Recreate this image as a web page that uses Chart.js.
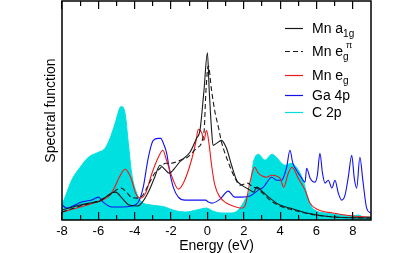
<!DOCTYPE html>
<html>
<head>
<meta charset="utf-8">
<script src="https://cdn.jsdelivr.net/npm/chart.js@4.4.1/dist/chart.umd.min.js"></script>
<style>
  html, body { margin: 0; padding: 0; background: #fff; }
  #dosChart { display: block; }
</style>
</head>
<body>
<canvas id="dosChart" width="416" height="253"></canvas>
<script>
// energy axis ticks (eV): labelled/long ones and short ones in between
const xTickLabels = [-8, -6, -4, -2, 0, 2, 4, 6, 8];
const xMinorTicks = [-7, -5, -3, -1, 1, 3, 5, 7];

// Mn a1g (solid black)
const a1gE = [-8, -7.0, -6.46, -5.9, -5.3, -5.05, -4.7, -4.3, -3.85, -3.58, -3.2, -2.9, -2.61, -2.35, -2.1, -1.8, -1.5, -0.96, -0.6, -0.41, -0.19, 0, 0.1, 0.23, 0.31, 0.5, 0.77, 1.05, 1.33, 1.61, 1.89, 2.34, 2.55, 2.71, 3.06, 3.44, 3.99, 4.54, 5.46, 6.9, 9];
const a1gV = [10, 15, 17, 19, 27, 28, 22, 15, 14, 18, 30, 43, 55, 51, 47, 52, 59, 68, 82, 90, 130, 168, 130, 90, 75, 77, 80, 72, 55, 40, 35, 30, 28, 33, 28, 22, 15, 12, 7, 3, 2];

// Mn eg^pi (dashed black)
const egPiE = [-8, -7.0, -6.4, -5.9, -5.4, -4.75, -4.45, -4.2, -3.85, -3.6, -3.2, -2.9, -2.6, -2.3, -2.0, -1.5, -1.1, -0.6, -0.19, -0.08, 0.05, 0.23, 0.4, 0.62, 0.78, 1.15, 1.52, 1.79, 2.2, 2.52, 2.71, 3.1, 3.44, 3.99, 4.54, 5.64, 7, 9];
const egPiV = [8, 14, 17, 20, 25, 32, 28, 23, 22, 24, 37, 47, 52, 57, 57, 60, 63, 72, 88, 130, 155, 130, 110, 92, 78, 58, 42, 35, 37, 33, 32, 26, 20, 14, 11, 6, 3, 2];

// Mn eg (red)
const egE = [-8, -7.0, -6.1, -5.36, -5.1, -4.85, -4.53, -4.2, -3.95, -3.7, -3.4, -3.05, -2.7, -2.45, -2.25, -1.88, -1.6, -1.3, -0.91, -0.64, -0.5, -0.32, -0.19, -0.05, 0.1, 0.23, 0.41, 0.69, 1.05, 1.42, 1.9, 2.1, 2.34, 2.6, 2.8, 3.26, 3.53, 3.99, 4.2, 4.45, 4.65, 5.0, 5.37, 5.64, 6.0, 6.9, 8.0, 9];
const egV = [8, 13, 18, 25, 33, 43, 51, 42, 27, 22, 27, 47, 63, 70, 60, 40, 31, 38, 58, 78, 91, 88, 80, 90, 75, 55, 35, 23, 17, 14, 12, 16, 38, 53, 47, 43, 45, 42, 33, 47, 53, 42, 30, 17, 11, 7, 4, 3];

// Ga 4p (blue)
const ga4pE = [-8.0, -7.74, -7.4, -6.92, -6.37, -6.0, -5.73, -5.27, -4.72, -4.17, -3.8, -3.53, -3.25, -2.98, -2.7, -2.57, -2.4, -2.24, -2.06, -1.88, -1.6, -1.23, -0.5, -0.1, 0.05, 0.25, 0.7, 1.15, 1.5, 1.9, 2.34, 2.8, 3.08, 3.54, 3.8, 4.08, 4.36, 4.54, 4.7, 4.9, 5.15, 5.37, 5.46, 5.65, 5.92, 6.05, 6.19, 6.33, 6.47, 6.65, 6.85, 7.02, 7.2, 7.39, 7.57, 7.75, 7.94, 8.08, 8.21, 8.39, 8.55, 8.76, 8.98];
const ga4pV = [15, 12, 14, 18, 20, 23, 18, 13, 13, 14, 18, 33, 63, 80, 82, 82, 76, 67, 47, 33, 23, 20, 20, 20, 18, 17, 21, 29, 23, 23, 24, 30, 33, 43, 40, 40, 53, 70, 57, 50, 43, 38, 52, 42, 38, 45, 67, 47, 37, 40, 32, 40, 27, 20, 25, 43, 65, 42, 32, 63, 40, 12, 7];

// C 2p (cyan, filled)
const c2pE = [-8.0, -7.83, -7.47, -7.0, -6.55, -6.0, -5.63, -5.36, -5.08, -4.81, -4.72, -4.53, -4.35, -4.17, -3.89, -3.62, -3.07, -2.33, -1.9, -1.2, -0.6, -0.05, 0.3, 0.8, 1.3, 1.7, 2.0, 2.2, 2.34, 2.5, 2.62, 2.8, 3.17, 3.54, 3.8, 4.08, 4.3, 4.6, 4.9, 5.15, 5.3, 5.46, 5.7, 6.0, 6.5, 7.3, 8.0, 8.3, 8.6, 9.0];
const c2pV = [15, 23, 40, 53, 63, 68, 72, 82, 97, 113, 114, 107, 77, 47, 27, 18, 15, 13, 10, 8, 10, 12, 9, 7, 7, 10, 18, 25, 30, 55, 63, 66, 60, 66, 63, 57, 55, 57, 53, 45, 38, 27, 14, 9, 7, 5, 4, 5, 3, 3];

const FONT = "'Liberation Sans', Arial, Helvetica, sans-serif";

function toPoints(xs, ys) {
    return xs.map((x, i) => ({ x: x, y: ys[i] }));
}

// extra energy axes that only draw inward tick marks (negative tickLength)
function tickAxis(position, values, len, weight) {
    return {
        type: 'linear',
        position: position,
        weight: weight,
        min: -8,
        max: 9,
        afterBuildTicks: (scale) => { scale.ticks = values.map(v => ({ value: v })); },
        afterFit: (scale) => { scale.height = 0; },
        ticks: { display: false, autoSkip: false },
        border: { display: false },
        grid: { display: true, drawOnChartArea: false, drawTicks: true, tickLength: -len, color: '#000', lineWidth: 1.2, z: 1 }
    };
}

// Legend with sub/superscripts, drawn on the canvas
const legendItems = [
    { ds: 0, parts: [{ t: 'Mn a' }, { t: '1g', sub: true }] },
    { ds: 1, parts: [{ t: 'Mn e' }, { t: 'g', sub: true }, { t: 'π', sup: true, back: true }] },
    { ds: 2, parts: [{ t: 'Mn e' }, { t: 'g', sub: true }] },
    { ds: 3, parts: [{ t: 'Ga 4p' }] },
    { ds: 4, parts: [{ t: 'C 2p' }] }
];
const legendRowY = [28, 51, 75, 95, 112];

const framePlugin = {
    id: 'frameLegend',
    afterDraw(chart) {
        const ctx = chart.ctx;
        const area = chart.chartArea;
        ctx.save();
        ctx.setLineDash([]);
        // frame
        ctx.strokeStyle = '#000';
        ctx.lineWidth = 1.5;
        ctx.strokeRect(area.left, area.top, area.right - area.left, area.bottom - area.top);

        // legend
        const lx0 = area.right - 86;
        const lx1 = lx0 + 18;
        const tx = lx0 + 27;
        legendItems.forEach((item, i) => {
            const ds = chart.data.datasets[item.ds];
            const y = legendRowY[i];
            ctx.save();
            ctx.strokeStyle = ds.borderColor;
            ctx.lineWidth = 1.2;
            if (ds.borderDash) ctx.setLineDash(ds.borderDash);
            ctx.beginPath();
            ctx.moveTo(lx0, y + 0.5);
            ctx.lineTo(lx1, y + 0.5);
            ctx.stroke();
            ctx.restore();

            ctx.fillStyle = '#000';
            ctx.textBaseline = 'alphabetic';
            ctx.textAlign = 'left';
            let x = tx;
            let lastStart = x;
            item.parts.forEach(p => {
                if (p.sub) {
                    ctx.font = '10px ' + FONT;
                    lastStart = x;
                    ctx.fillText(p.t, x, y + 9);
                    x += ctx.measureText(p.t).width;
                } else if (p.sup) {
                    ctx.font = '9px ' + FONT;
                    const sx = p.back ? lastStart + 3 : x;
                    ctx.fillText(p.t, sx, y - 3);
                } else {
                    ctx.font = '14px ' + FONT;
                    ctx.fillText(p.t, x, y + 5);
                    x += ctx.measureText(p.t).width;
                }
            });
        });
        ctx.restore();
    }
};

const lineCommon = {
    pointRadius: 0,
    borderWidth: 1.1,
    cubicInterpolationMode: 'monotone',
    fill: false
};

new Chart(document.getElementById('dosChart'), {
    type: 'line',
    data: {
        datasets: [
            Object.assign({ label: 'Mn a1g', data: toPoints(a1gE, a1gV), borderColor: '#1a1a1a' }, lineCommon),
            Object.assign({ label: 'Mn eg pi', data: toPoints(egPiE, egPiV), borderColor: '#1a1a1a', borderDash: [5, 3] }, lineCommon),
            Object.assign({ label: 'Mn eg', data: toPoints(egE, egV), borderColor: '#f01818' }, lineCommon),
            Object.assign({ label: 'Ga 4p', data: toPoints(ga4pE, ga4pV), borderColor: '#1010f0' }, lineCommon),
            Object.assign({}, lineCommon, { label: 'C 2p', data: toPoints(c2pE, c2pV), borderColor: '#00e0e0', backgroundColor: '#00e0e0', borderWidth: 1, fill: 'origin' })
        ]
    },
    options: {
        responsive: false,
        animation: false,
        devicePixelRatio: 1,
        layout: { padding: { top: 1, right: 45, bottom: 0, left: 0 } },
        plugins: {
            legend: { display: false },
            tooltip: { enabled: false }
        },
        scales: {
            x: {
                type: 'linear',
                position: 'bottom',
                weight: 1,
                min: -8,
                max: 9,
                grid: { display: true, drawOnChartArea: false, drawTicks: true, tickLength: -8, color: '#000', lineWidth: 1.2, z: 1 },
                border: { display: false },
                afterBuildTicks: (scale) => {
                    scale.ticks = xTickLabels.map(v => ({ value: v }));
                },
                afterFit: (scale) => { scale.height = 33; },
                ticks: {
                    color: '#000',
                    font: { family: FONT, size: 13 },
                    padding: 12,
                    maxRotation: 0,
                    autoSkip: false
                },
                title: {
                    display: true,
                    text: 'Energy (eV)',
                    color: '#000',
                    font: { family: FONT, size: 14, lineHeight: 1 },
                    padding: { top: 0, bottom: 0 }
                }
            },
            xMinorBottom: tickAxis('bottom', xMinorTicks, 5, 0),
            xMajorTop: tickAxis('top', xTickLabels, 8, 0),
            xMinorTop: tickAxis('top', xMinorTicks, 5, 1),
            y: {
                min: 0,
                max: 220,
                grid: { display: false },
                border: { display: false },
                ticks: { display: false },
                afterFit: (scale) => { scale.width = 62; },
                title: {
                    display: true,
                    text: 'Spectral function',
                    color: '#000',
                    font: { family: FONT, size: 14 },
                    padding: { top: 43, bottom: 0 }
                }
            }
        }
    },
    plugins: [framePlugin]
});
</script>
</body>
</html>
